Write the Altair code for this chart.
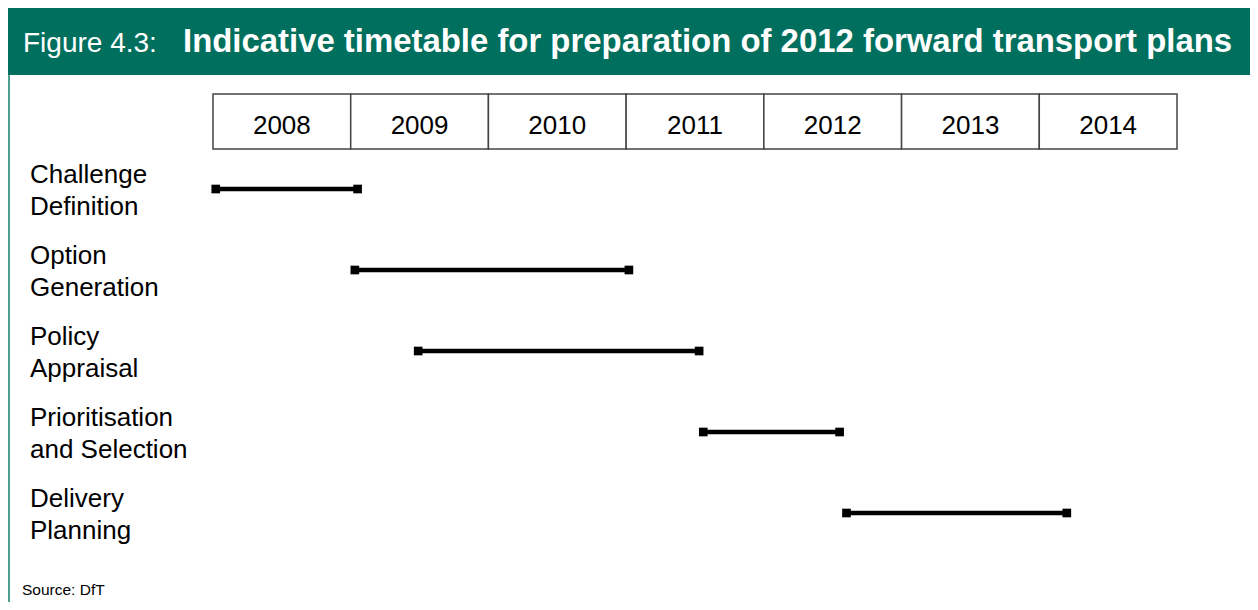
import altair as alt
import pandas as pd

# ---- data ----
tasks = ["Challenge\nDefinition", "Option\nGeneration", "Policy\nAppraisal",
         "Prioritisation\nand Selection", "Delivery\nPlanning"]
task_order = [0, 1, 2, 3, 4]
starts = [2008.02, 2009.03, 2009.49, 2011.56, 2012.60]
ends = [2009.05, 2011.02, 2011.53, 2012.55, 2014.20]
years = [2008, 2009, 2010, 2011, 2012, 2013, 2014]
year_labels = ["2008", "2009", "2010", "2011", "2012", "2013", "2014"]
title_prefix = "Figure 4.3:"
title_main = "Indicative timetable for preparation of 2012 forward transport plans"
source_text = "Source: DfT"

FONT = "Liberation Sans"
GREEN = "#006F5E"
W, H = 1242, 594

tdf = pd.DataFrame({"task": tasks, "row": task_order, "start": starts, "end": ends})
ydf = pd.DataFrame({"year": years, "year_end": [y + 1 for y in years],
                    "mid": [y + 0.5 for y in years], "label": year_labels})

xs = alt.Scale(domain=[2008, 2015], range=[205, 1169])
ys = alt.Scale(domain=[0, 4], range=[181, 505])
X = lambda f: alt.X(f, type="quantitative", scale=xs, axis=None)
Y = lambda f: alt.Y(f, type="quantitative", scale=ys, axis=None)

one = pd.DataFrame({"k": [0]})

header = alt.Chart(one).mark_rect(color=GREEN).encode(
    x=alt.value(0), x2=alt.value(W), y=alt.value(0), y2=alt.value(67))
border = alt.Chart(one).mark_rule(color="#4E9E92", strokeWidth=2).encode(
    x=alt.value(1), y=alt.value(67), y2=alt.value(H))
t1 = alt.Chart(one).mark_text(text=title_prefix, font=FONT, fontSize=28, color="white",
                              align="left", baseline="alphabetic").encode(
    x=alt.value(15), y=alt.value(44))
t2 = alt.Chart(one).mark_text(text=title_main, font=FONT, fontSize=32.9, fontWeight="bold",
                              color="white", align="left", baseline="alphabetic").encode(
    x=alt.value(175), y=alt.value(44))
src = alt.Chart(one).mark_text(text=source_text, font=FONT, fontSize=15.5, color="black",
                               align="left", baseline="middle").encode(
    x=alt.value(14), y=alt.value(582))

boxes = alt.Chart(ydf).mark_rect(fill="white", stroke="#444444", strokeWidth=1.5).encode(
    x=X("year"), x2="year_end", y=alt.value(86), y2=alt.value(141))
box_text = alt.Chart(ydf).mark_text(font=FONT, fontSize=26, color="black",
                                    baseline="middle").encode(
    x=X("mid"), y=alt.value(118), text="label:N")

bars = alt.Chart(tdf).mark_rule(color="black", strokeWidth=4.5).encode(
    x=X("start"), x2="end", y=Y("row"))
m1 = alt.Chart(tdf).mark_square(color="black", size=75, opacity=1).encode(
    x=X("start"), y=Y("row"))
m2 = alt.Chart(tdf).mark_square(color="black", size=75, opacity=1).encode(
    x=X("end"), y=Y("row"))
labels = alt.Chart(tdf).mark_text(font=FONT, fontSize=26, color="black", align="left",
                                  baseline="middle", lineBreak="\n", lineHeight=32,
                                  dy=-14).encode(
    x=alt.value(22), y=Y("row"), text="task:N")

chart = alt.layer(header, border, t1, t2, boxes, box_text, bars, m1, m2, labels, src).properties(
    width=W, height=H, padding=0, autosize=alt.AutoSizeParams(type="none")
).configure_view(stroke=None)

chart.save("out.html", embed_options={"renderer": "svg", "actions": False})
